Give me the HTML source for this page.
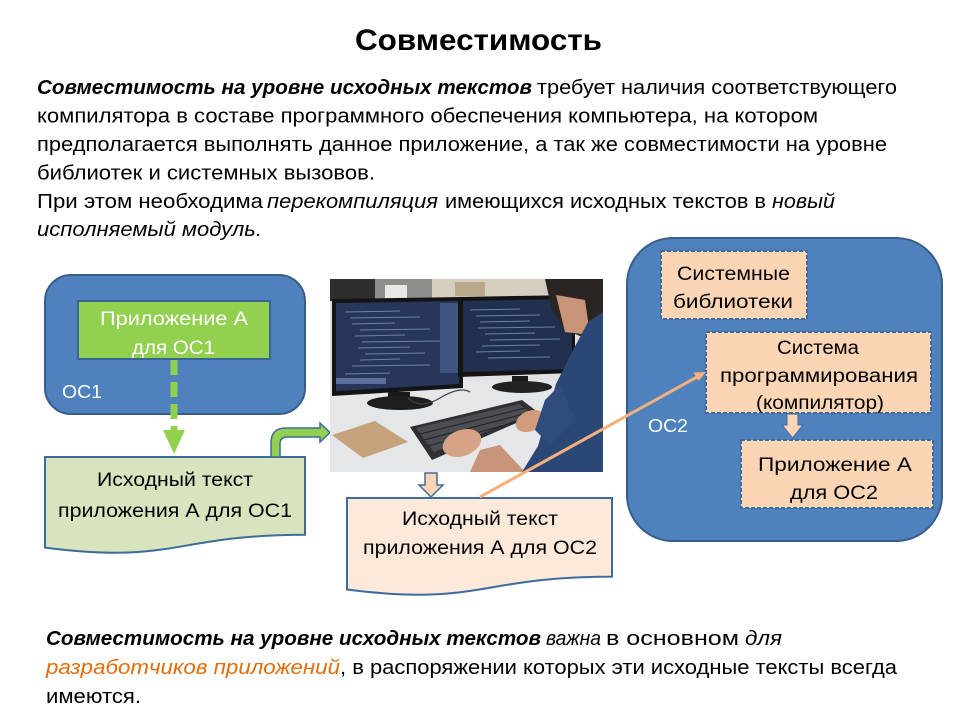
<!DOCTYPE html>
<html><head><meta charset="utf-8"><style>
html,body{margin:0;padding:0;background:#fff;}
svg{display:block;}
text{font-family:"Liberation Sans","DejaVu Sans",sans-serif;}
</style></head><body>
<svg width="960" height="720" viewBox="0 0 960 720" xmlns="http://www.w3.org/2000/svg">
<rect width="960" height="720" fill="#fff"/>
<!-- Title -->
<text x="355" y="50" font-size="30" font-weight="bold" textLength="247" lengthAdjust="spacingAndGlyphs" fill="#000">Совместимость</text>

<!-- Paragraph -->
<g font-size="20" fill="#000">
<text x="37" y="94" font-weight="bold" font-style="italic" textLength="495" lengthAdjust="spacingAndGlyphs">Совместимость на уровне исходных текстов</text>
<text x="537" y="94" textLength="360" lengthAdjust="spacingAndGlyphs">требует наличия соответствующего</text>
<text x="37" y="122.5" textLength="781" lengthAdjust="spacingAndGlyphs">компилятора в составе программного обеспечения компьютера, на котором</text>
<text x="37" y="151" textLength="850" lengthAdjust="spacingAndGlyphs">предполагается выполнять данное приложение, а так же совместимости на уровне</text>
<text x="37" y="179.5" textLength="338" lengthAdjust="spacingAndGlyphs">библиотек и системных вызовов.</text>
<text x="37" y="208" textLength="226" lengthAdjust="spacingAndGlyphs">При этом необходима</text>
<text x="267" y="208" font-style="italic" textLength="171" lengthAdjust="spacingAndGlyphs">перекомпиляция</text>
<text x="445" y="208" textLength="321" lengthAdjust="spacingAndGlyphs">имеющихся исходных текстов в</text>
<text x="772" y="208" font-style="italic" textLength="63" lengthAdjust="spacingAndGlyphs">новый</text>
<text x="37" y="236" font-style="italic" textLength="225" lengthAdjust="spacingAndGlyphs">исполняемый модуль.</text>
</g>

<!-- OC1 container -->
<rect x="45" y="275" width="260" height="139" rx="26" ry="26" fill="#4f81bd" stroke="#385d8a" stroke-width="2"/>
<rect x="78" y="301" width="192" height="58" fill="#92d050" stroke="#3b6495" stroke-width="2"/>
<g font-size="19" fill="#fff">
<text x="100" y="325" textLength="148" lengthAdjust="spacingAndGlyphs">Приложение А</text>
<text x="132" y="354" textLength="83" lengthAdjust="spacingAndGlyphs">для ОС1</text>
<text x="62" y="398" font-size="18" textLength="40" lengthAdjust="spacingAndGlyphs">ОС1</text>
</g>

<!-- dashed green arrow -->
<line x1="174" y1="360" x2="174" y2="432" stroke="#92d050" stroke-width="7" stroke-dasharray="15 7"/>
<polygon points="163,430 185,430 174,454" fill="#92d050"/>

<!-- Doc 1 -->
<path d="M45,457 H305 V534.8 C175,534.8 175,564.4 45,547.6 Z" fill="#d7e4bd" stroke="#3e6b9e" stroke-width="2"/>
<g font-size="19" fill="#000">
<text x="97" y="486" textLength="156" lengthAdjust="spacingAndGlyphs">Исходный текст</text>
<text x="58" y="517" textLength="234" lengthAdjust="spacingAndGlyphs">приложения А для ОС1</text>
</g>

<!-- bent green arrow -->
<path d="M271,457 V443 Q271,428 286,428 H320 V423 L330,432.5 L320,442 V437 H287 Q280,437 280,444 V457 Z" fill="#92d050" stroke="#3e6b9e" stroke-width="1.5"/>

<!-- Photo -->
<defs><clipPath id="ph"><rect x="330" y="279" width="273" height="193"/></clipPath></defs>
<g clip-path="url(#ph)">
<rect x="330" y="279" width="273" height="193" fill="#dfe1e2"/>
<rect x="330" y="279" width="273" height="22" fill="#cfcac0"/>
<rect x="330" y="279" width="45" height="22" fill="#2e2e2e"/>
<rect x="375" y="279" width="57" height="22" fill="#8e8e8c"/>
<rect x="385" y="285" width="22" height="14" fill="#e8e8e6"/>
<rect x="432" y="279" width="113" height="20" fill="#d6cfbf"/>
<rect x="455" y="282" width="30" height="14" fill="#b9a88a"/>
<!-- desk behind monitors -->
<rect x="330" y="380" width="273" height="92" fill="#e4e6e7"/>
<!-- left monitor -->
<polygon points="332,299 463,297 463,388 332,396" fill="#141414"/>
<polygon points="336,303 459,301 459,384 336,391" fill="#27365a"/>
<g stroke="#7f95bf" stroke-width="1" opacity="0.8">
<line x1="345" y1="312" x2="400" y2="311"/><line x1="350" y1="318" x2="420" y2="317"/>
<line x1="352" y1="324" x2="395" y2="323"/><line x1="360" y1="330" x2="430" y2="329"/>
<line x1="355" y1="336" x2="405" y2="335"/><line x1="362" y1="342" x2="440" y2="341"/>
<line x1="358" y1="348" x2="410" y2="347"/><line x1="365" y1="354" x2="425" y2="353"/>
<line x1="360" y1="360" x2="400" y2="359"/><line x1="352" y1="366" x2="430" y2="365"/>
<line x1="345" y1="374" x2="390" y2="373"/>
</g>
<rect x="440" y="303" width="18" height="70" fill="#3f5480"/>
<rect x="336" y="378" width="50" height="6" fill="#5a6f99"/>
<rect x="388" y="392" width="22" height="8" fill="#1a1a1a"/>
<ellipse cx="400" cy="403" rx="33" ry="7" fill="#1e1e1e"/>
<!-- right monitor -->
<polygon points="458,297 575,295 575,373 458,377" fill="#141414"/>
<polygon points="463,301 572,299 572,369 463,372" fill="#22304f"/>
<g stroke="#7f95bf" stroke-width="1" opacity="0.8">
<line x1="470" y1="310" x2="520" y2="309"/><line x1="476" y1="316" x2="540" y2="315"/>
<line x1="480" y1="322" x2="530" y2="321"/><line x1="478" y1="328" x2="555" y2="327"/>
<line x1="485" y1="334" x2="535" y2="333"/><line x1="490" y1="340" x2="560" y2="339"/>
<line x1="482" y1="346" x2="540" y2="345"/><line x1="476" y1="352" x2="520" y2="351"/>
<line x1="488" y1="358" x2="550" y2="357"/>
</g>
<rect x="512" y="376" width="16" height="8" fill="#1a1a1a"/>
<ellipse cx="522" cy="387" rx="30" ry="6" fill="#222"/>
<!-- cable -->
<path d="M408,398 Q420,410 440,398 T470,392" stroke="#444" stroke-width="1.2" fill="none"/>
<!-- cardboard -->
<polygon points="332,435 375,421 408,442 363,458" fill="#c3a27c"/>
<!-- keyboard -->
<polygon points="410,427 522,400 539,413 432,460" fill="#2e3134"/>
<polygon points="416,428 519,404 532,414 434,452" fill="#4a4e52"/>
<g stroke="#222" stroke-width="1">
<line x1="420" y1="434" x2="525" y2="408"/><line x1="424" y1="440" x2="528" y2="413"/>
<line x1="428" y1="446" x2="531" y2="418"/>
</g>
<!-- hands -->
<ellipse cx="462" cy="443" rx="20" ry="13" fill="#d6a384" transform="rotate(-20 462 443)"/>
<ellipse cx="530" cy="421" rx="15" ry="10" fill="#d29c7c" transform="rotate(-25 530 421)"/>
<polygon points="470,472 480,450 500,445 525,472" fill="#c8957a"/>
<!-- person -->
<polygon points="545,279 603,279 603,335 585,338 565,330 552,310" fill="#2a2522"/>
<polygon points="556,295 585,300 590,335 565,332" fill="#c99478"/>
<polygon points="588,322 603,312 603,472 522,472 538,446 556,384 572,352" fill="#2b4775"/>
<polygon points="545,400 560,385 575,420 550,445 535,430" fill="#2f4c7c"/>
</g>

<!-- orange down arrow under photo -->
<path d="M425,473 H437 V485 H443 L431,497 L419,485 H425 Z" fill="#fcd5b5" stroke="#3e6b9e" stroke-width="1.5"/>

<!-- Doc 2 -->
<path d="M347,498 H612 V576.6 C479.5,576.6 479.5,606.5 347,589.5 Z" fill="#fde9d9" stroke="#3e6b9e" stroke-width="2"/>
<g font-size="19" fill="#000">
<text x="402" y="525" textLength="156" lengthAdjust="spacingAndGlyphs">Исходный текст</text>
<text x="363" y="554" textLength="234" lengthAdjust="spacingAndGlyphs">приложения А для ОС2</text>
</g>

<!-- OC2 container -->
<rect x="627" y="238" width="315" height="303" rx="46" ry="46" fill="#4f81bd" stroke="#385d8a" stroke-width="2"/>
<g fill="#fcd5b4" stroke="#3e6b9e" stroke-width="2" stroke-dasharray="4 2">
<rect x="661" y="251" width="146" height="68"/>
<rect x="706" y="332" width="225" height="81"/>
<rect x="741" y="440" width="192" height="68"/>
</g>
<g font-size="19" fill="#000">
<text x="677" y="280" textLength="113" lengthAdjust="spacingAndGlyphs">Системные</text>
<text x="673" y="308" textLength="120" lengthAdjust="spacingAndGlyphs">библиотеки</text>
<text x="777" y="354" textLength="82" lengthAdjust="spacingAndGlyphs">Система</text>
<text x="720" y="382" textLength="198" lengthAdjust="spacingAndGlyphs">программирования</text>
<text x="756" y="409" textLength="128" lengthAdjust="spacingAndGlyphs">(компилятор)</text>
<text x="758" y="471" textLength="154" lengthAdjust="spacingAndGlyphs">Приложение А</text>
<text x="790" y="499" textLength="88" lengthAdjust="spacingAndGlyphs">для ОС2</text>
</g>
<text x="648" y="432" font-size="18" fill="#fff" textLength="40" lengthAdjust="spacingAndGlyphs">ОС2</text>
<!-- small arrow -->
<path d="M787,414 H798 V425 H803 L792.5,438 L782,425 H787 Z" fill="#fcd5b5" stroke="#3e6b9e" stroke-width="1"/>

<!-- orange connector -->
<line x1="480" y1="497" x2="697" y2="377" stroke="#f6b07c" stroke-width="3"/>
<polygon points="706,372 698.5,381 693.5,372.5" fill="#f6b07c"/>

<!-- Bottom text -->
<g font-size="20" fill="#000">
<text x="46" y="645" font-weight="bold" font-style="italic" textLength="495" lengthAdjust="spacingAndGlyphs">Совместимость на уровне исходных текстов</text>
<text x="546" y="645" font-style="italic" textLength="55" lengthAdjust="spacingAndGlyphs">важна</text>
<text x="606" y="645" textLength="133" lengthAdjust="spacingAndGlyphs">в основном</text>
<text x="745" y="645" font-style="italic" textLength="37" lengthAdjust="spacingAndGlyphs">для</text>
<text x="46" y="674" font-style="italic" fill="#e46c0a" textLength="294" lengthAdjust="spacingAndGlyphs">разработчиков приложений</text>
<text x="340" y="674" textLength="557" lengthAdjust="spacingAndGlyphs">, в распоряжении которых эти исходные тексты всегда</text>
<text x="46" y="703" textLength="95" lengthAdjust="spacingAndGlyphs">имеются.</text>
</g>
</svg>
</body></html>
